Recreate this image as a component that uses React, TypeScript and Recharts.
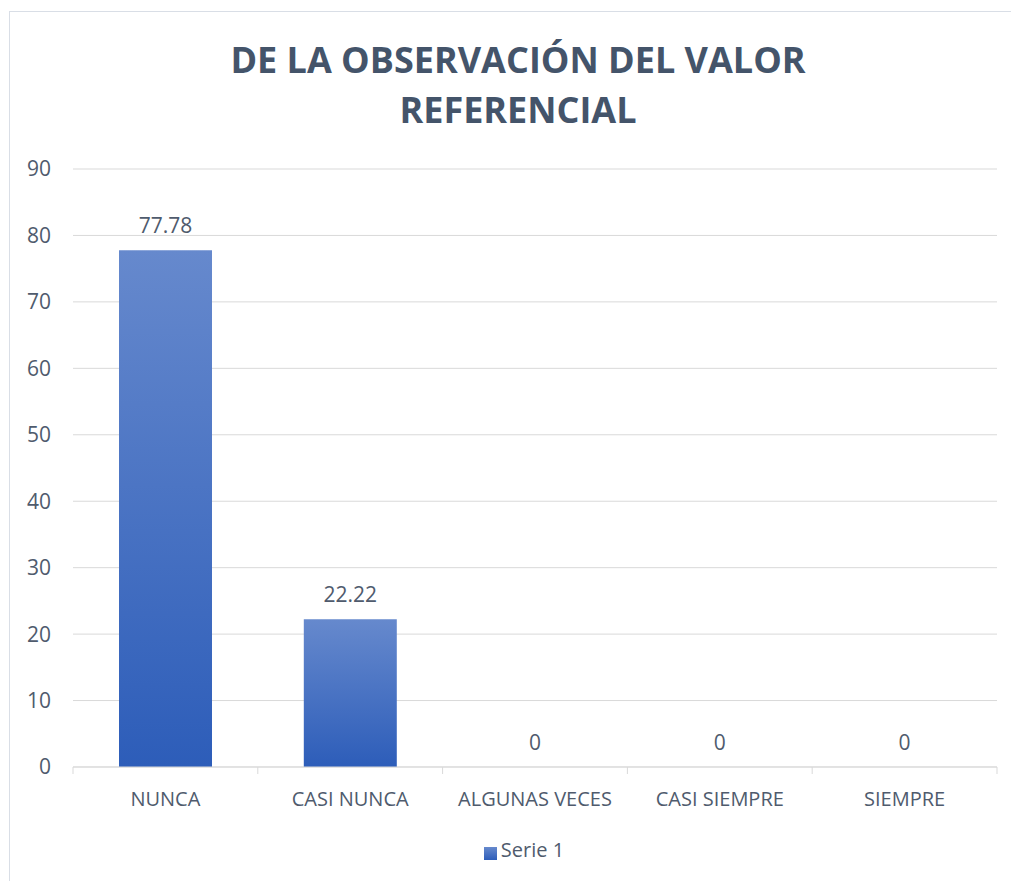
import React from "react";
import { ComposedChart, Bar, Line, XAxis, YAxis, CartesianGrid, Legend, LabelList } from "recharts";

const categories = ["NUNCA", "CASI NUNCA", "ALGUNAS VECES", "CASI SIEMPRE", "SIEMPRE"];
const serie1 = [77.78, 22.22, 0, 0, 0];
const yTicks = [0, 10, 20, 30, 40, 50, 60, 70, 80, 90];
const titleLines = ["DE LA OBSERVACIÓN DEL VALOR", "REFERENCIAL"];
const seriesName = "Serie 1";

const data = categories.map((c, i) => ({ name: c, value: serie1[i] }));

const W = 1011;
const H = 881;
const MARGIN = { top: 169, right: 14, bottom: 21, left: 13 };
const Y_AXIS_W = 60;
const PLOT_W = W - MARGIN.left - MARGIN.right - Y_AXIS_W;
const BAND = PLOT_W / categories.length;
const FONT = "'Open Sans', 'Liberation Sans', sans-serif";
const TEXT = "#4f5b6d";

const CategoryTick = (props: any) => {
  const { x, y, payload, index } = props;
  return (
    <g>
      <line x1={x - BAND / 2} x2={x - BAND / 2} y1={y - 8} y2={y - 1} stroke="#d9d9d9" strokeWidth={1} />
      {index === categories.length - 1 && (
        <line x1={x + BAND / 2} x2={x + BAND / 2} y1={y - 8} y2={y - 1} stroke="#d9d9d9" strokeWidth={1} />
      )}
      <text x={x} y={y + 31} textAnchor="middle" fill={TEXT} fontSize={20} fontFamily={FONT}>
        {payload.value}
      </text>
    </g>
  );
};

export default function App() {
  return (
    <div style={{ position: "absolute", left: 0, top: 0, width: W, height: H, background: "#fff", overflow: "hidden" }}>
      <div
        style={{
          position: "absolute",
          left: 9,
          top: 11,
          width: W + 20,
          height: H + 20,
          border: "1px solid #d9dee6",
          boxSizing: "border-box",
        }}
      />
      <svg style={{ position: "absolute", left: 0, top: 0 }} width={W} height={140}>
        {titleLines.map((t, i) => (
          <text
            key={i}
            x={518}
            y={73 + i * 50}
            textAnchor="middle"
            fill="#44546a"
            fontSize={36}
            fontWeight={700}
            fontFamily={FONT}
          >
            {t}
          </text>
        ))}
      </svg>
      <div style={{ position: "absolute", left: 0, top: 0 }}>
        <ComposedChart width={W} height={H} data={data} margin={MARGIN}>
          <defs>
            <linearGradient id="barGrad" x1="0" y1="0" x2="0" y2="1">
              <stop offset="0%" stopColor="#6689cd" />
              <stop offset="100%" stopColor="#2d5db9" />
            </linearGradient>
          </defs>
          <CartesianGrid vertical={false} stroke="#d9d9d9" strokeWidth={1} />
          <XAxis
            dataKey="name"
            height={69}
            axisLine={{ stroke: "#d9d9d9", strokeWidth: 1 }}
            tickLine={false}
            tick={<CategoryTick />}
            interval={0}
          />
          <YAxis
            width={Y_AXIS_W}
            domain={[0, 90]}
            ticks={yTicks}
            axisLine={false}
            tickLine={false}
            tickSize={0}
            tickMargin={22}
            tick={{ fill: TEXT, fontSize: 21, fontFamily: FONT }}
          />
          <Legend
            verticalAlign="bottom"
            align="center"
            height={24}
            iconType="square"
            iconSize={13}
            wrapperStyle={{ paddingLeft: 24 }}
            formatter={(v: string) => (
              <span style={{ color: TEXT, fontSize: 20, fontFamily: FONT }}>{v}</span>
            )}
          />
          <Bar dataKey="value" name={seriesName} fill="url(#barGrad)" barSize={93} isAnimationActive={false} />
          <Line
            dataKey="value"
            stroke="none"
            dot={false}
            activeDot={false}
            legendType="none"
            isAnimationActive={false}
          >
            <LabelList
              dataKey="value"
              position="top"
              offset={17}
              fill={TEXT}
              fontSize={21}
              fontFamily={FONT}
            />
          </Line>
        </ComposedChart>
      </div>
    </div>
  );
}
